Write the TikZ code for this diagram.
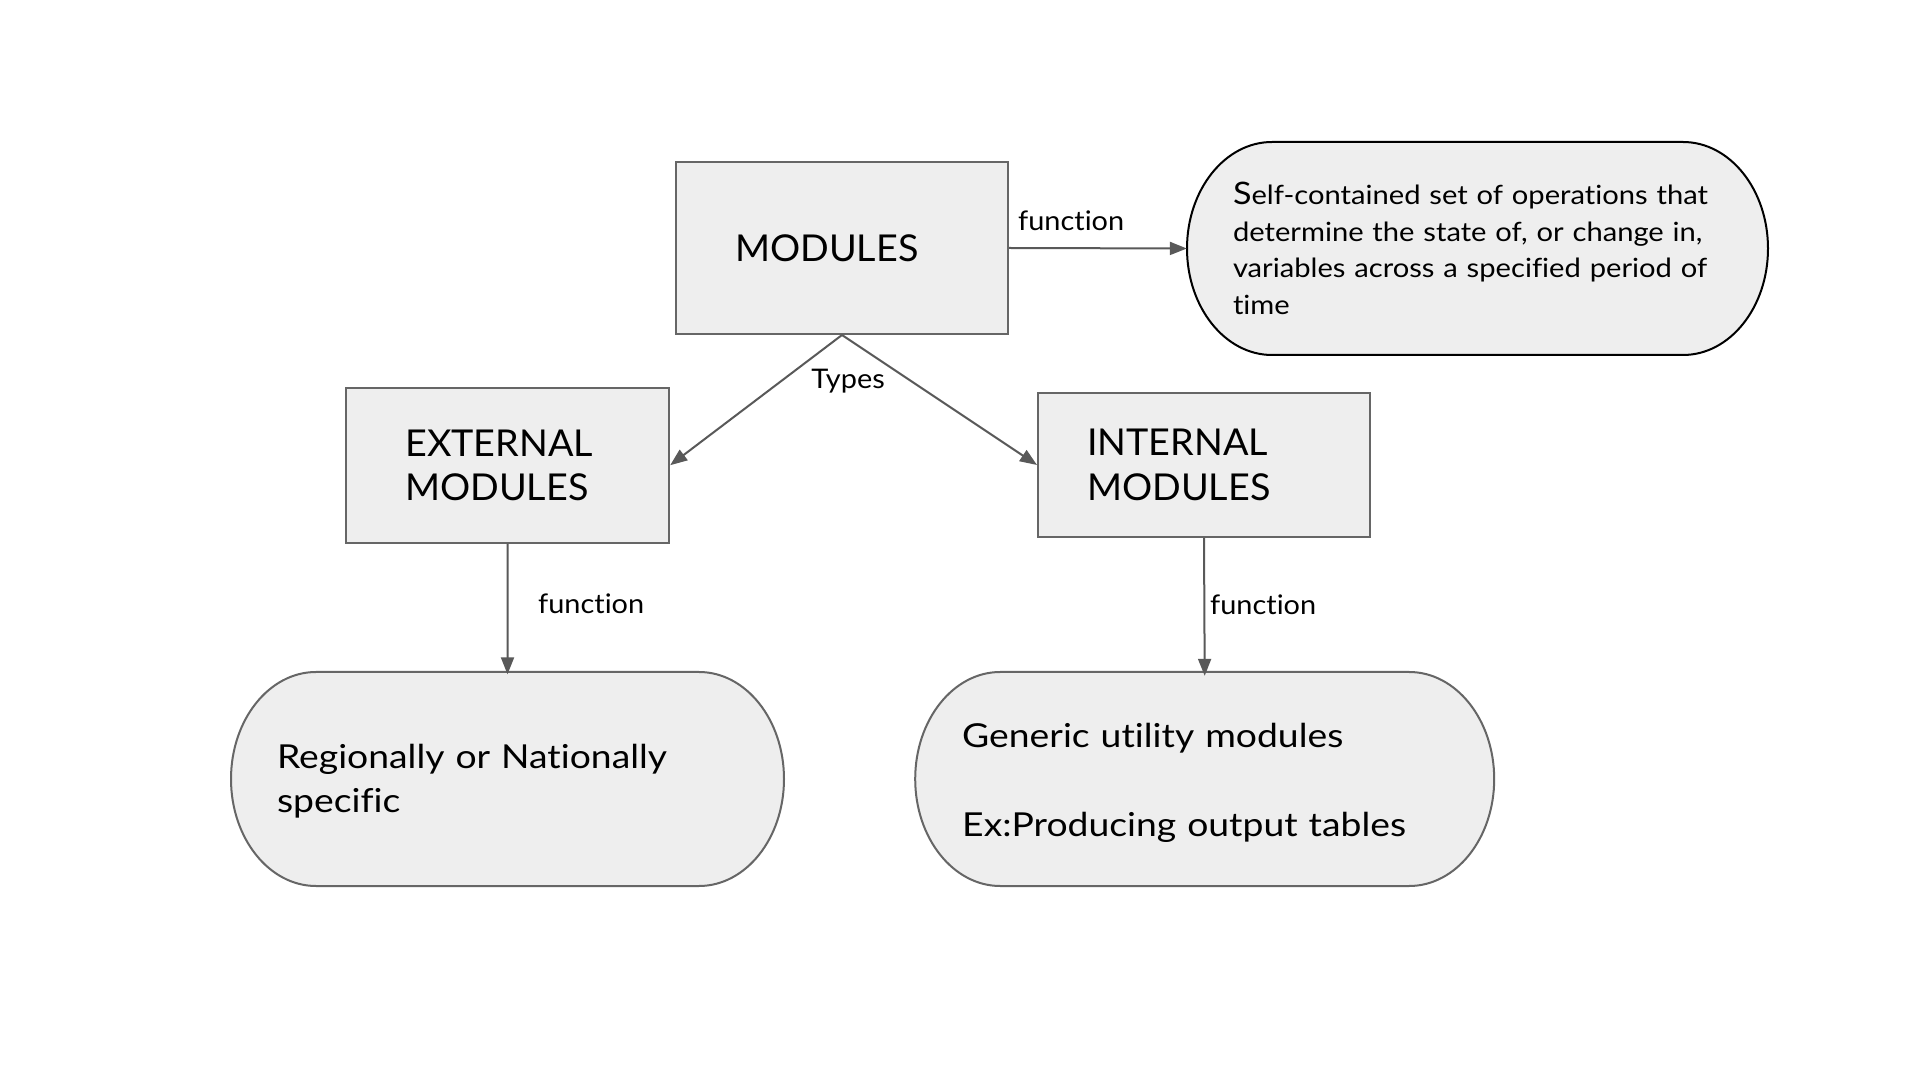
\documentclass[tikz,border=0pt]{standalone}
\usepackage{fontspec}
\setmainfont{Lato}[Ligatures=NoCommon]
\newfontfamily\widefont{Lato}[FakeStretch=1.10,Ligatures=NoCommon]
\newfontfamily\widerfont{Lato}[FakeStretch=1.13,Ligatures=NoCommon]
\newfontfamily\labelfont{Lato}[FakeStretch=1.07,Ligatures=NoCommon]
\newfontfamily\capsfont{Lato}[FakeStretch=1.02,Ligatures=NoCommon]
\usetikzlibrary{arrows.meta}
\definecolor{boxfill}{HTML}{EEEEEE}
\definecolor{edgegray}{HTML}{666666}
\definecolor{arrowgray}{HTML}{595959}
\newcommand{\drawpill}[5]{%
  \path[#5] (#1-#3/2+85, #2+#4/2) -- (#1+#3/2-85, #2+#4/2)
    arc[start angle=90, end angle=-90, x radius=85, y radius=#4/2]
    -- (#1-#3/2+85, #2-#4/2)
    arc[start angle=270, end angle=90, x radius=85, y radius=#4/2] -- cycle;}
\begin{document}
\begin{tikzpicture}[x=1pt,y=1pt,
  box/.style={draw=edgegray, line width=2pt, fill=boxfill, rectangle, align=left,
    font=\capsfont\fontsize{37}{44.3}\selectfont, inner ysep=0pt},
  pilltext/.style={rectangle, align=left, inner ysep=0pt},
  pillblack/.style={draw=black, line width=2pt, fill=boxfill},
  pillgray/.style={draw=edgegray, line width=2pt, fill=boxfill},
  lbl/.style={font=\labelfont\fontsize{27}{32}\selectfont, inner sep=0pt},
  conn/.style={draw=arrowgray, line width=2pt, -{Triangle[length=17pt,width=13pt]}}]
\fill[white] (0,0) rectangle (1920,1080);
\useasboundingbox (0,0) rectangle (1920,1080);

% boxes
\node[box, minimum width=332pt, minimum height=172pt, text width=214pt, inner xsep=59pt] (mod) at (842,832) {MODULES};
\node[box, minimum width=323pt, minimum height=155pt, text width=205pt, inner xsep=59pt] (ext) at (507.7,614.8) {EXTERNAL\\MODULES};
\node[box, minimum width=332pt, minimum height=144pt, text width=234pt, inner xsep=49pt] (int) at (1204,615) {INTERNAL\\MODULES};

% pills
\drawpill{1477.5}{831.5}{581}{213}{pillblack}
\node[pilltext, minimum width=581pt, minimum height=213pt, text width=489pt, inner xsep=46pt,
  font=\widefont\fontsize{26.5}{36.5}\selectfont] (def) at (1477.5,831.5)
  {{\fontsize{31}{36.5}\selectfont S}elf-contained set of operations that\\determine the state of, or change in,\\variables across a specified period of\\time};

\drawpill{507.5}{301}{553}{214}{pillgray}
\node[pilltext, minimum width=553pt, minimum height=214pt, text width=461pt, inner xsep=46pt,
  font=\widerfont\fontsize{33}{44.3}\selectfont] (reg) at (507.5,298.5)
  {Regionally or Nationally\\specific};

\drawpill{1204.7}{301}{579}{214}{pillgray}
\node[pilltext, minimum width=579pt, minimum height=214pt, text width=485pt, inner xsep=47pt,
  font=\widerfont\fontsize{33}{44.3}\selectfont] (gen) at (1204.7,297)
  {Generic utility modules\\[44.3pt]Ex:Producing output tables};

% connectors
\draw[conn] (mod.east) -- (def.west);
\draw[conn] (mod.south) -- (ext.east);
\draw[conn] (mod.south) -- (int.west);
\draw[conn] (ext.south) -- (reg.north);
\draw[conn] (int.south) -- (gen.north);

% labels
\node[lbl, anchor=base west] (lf1) at (1018,849.3) {function};
\node[lbl, anchor=base] (lty) at (848,691.7) {Types};
\node[lbl, anchor=base west] (lf2) at (538,466) {function};
\node[lbl, anchor=base west] (lf3) at (1210,465) {function};
\end{tikzpicture}
\end{document}
